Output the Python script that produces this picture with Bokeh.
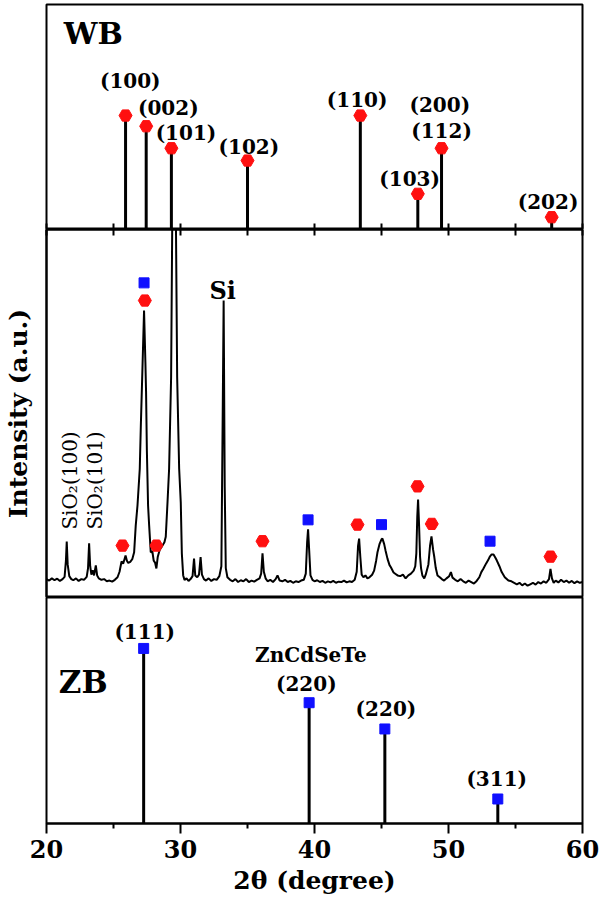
import math
from bokeh.plotting import figure
from bokeh.layouts import column
from bokeh.models import ColumnDataSource, FixedTicker, Range1d, Label
from bokeh.core.properties import value
from bokeh.embed import file_html
from bokeh.resources import INLINE

# ---------------- data ----------------
# Wurtzite (WB) reference lines
wb_pos = [25.9, 27.44, 29.32, 35.0, 43.42, 47.71, 49.48, 57.7]
wb_int = [100, 90.6, 71.3, 60.5, 100, 31.3, 71.3, 10.8]
wb_lbl = ["(100)", "(002)", "(101)", "(102)", "(110)", "(103)", "(200)", "(112)", "(202)"]
wb_lbl_x = [26.25, 29.09, 30.41, 35.1, 43.18, 47.1, 49.35, 49.48, 57.43]
wb_lbl_y = [130.7, 107.0, 85.1, 72.8, 114.0, 44.7, 108.8, 86.0, 23.7]

# Zinc blende (ZB) reference lines
zb_pos = [27.25, 39.6, 45.25, 53.68]
zb_int = [100, 69, 54, 14]
zb_lbl = ["(111)", "ZnCdSeTe", "(220)", "(220)", "(311)"]
zb_lbl_x = [27.33, 39.73, 39.39, 45.33, 53.6]
zb_lbl_y = [109.3, 96.4, 79.8, 65.5, 25.5]

# Measured XRD pattern
xrd_2theta = [
    20.0, 20.2, 20.4, 20.6, 20.8, 21.0, 21.2, 21.35, 21.45, 21.51, 21.58, 21.7, 21.85,
    22.0, 22.2, 22.4, 22.6, 22.8, 23.0, 23.1, 23.18, 23.26, 23.35, 23.45, 23.55, 23.68,
    23.78, 23.9, 24.1, 24.3, 24.5, 24.7, 24.9, 25.1, 25.3, 25.45, 25.6, 25.72, 25.82,
    25.9, 26.0, 26.1, 26.25, 26.4, 26.54, 26.66, 26.79, 26.96, 27.04, 27.16, 27.28,
    27.38, 27.43, 27.49, 27.58, 27.66, 27.78, 27.9, 28.0, 28.1, 28.2, 28.3, 28.45, 28.6,
    28.8, 28.9, 29.03, 29.15, 29.3, 29.42, 29.46, 29.58, 29.62, 29.75, 29.9, 30.02,
    30.1, 30.2, 30.3, 30.45, 30.6, 30.75, 30.9, 31.01, 31.1, 31.25, 31.38, 31.5, 31.6,
    31.75, 31.9, 32.1, 32.3, 32.5, 32.7, 32.9, 33.05, 33.15, 33.22, 33.3, 33.38, 33.5,
    33.7, 33.9, 34.1, 34.3, 34.5, 34.7, 34.9, 35.1, 35.3, 35.5, 35.7, 35.9, 36.02,
    36.12, 36.22, 36.35, 36.5, 36.7, 36.9, 37.1, 37.24, 37.4, 37.6, 37.8, 38.0, 38.2,
    38.4, 38.6, 38.8, 39.0, 39.2, 39.35, 39.45, 39.52, 39.6, 39.7, 39.85, 40.0, 40.2,
    40.4, 40.6, 40.8, 41.0, 41.2, 41.4, 41.6, 41.8, 42.0, 42.2, 42.4, 42.6, 42.8, 43.0,
    43.15, 43.25, 43.33, 43.42, 43.52, 43.65, 43.8, 43.95, 44.1, 44.3, 44.45, 44.6,
    44.7, 44.85, 45.0, 45.07, 45.2, 45.3, 45.45, 45.6, 45.7, 45.9, 46.05, 46.2, 46.4,
    46.6, 46.8, 47.0, 47.2, 47.4, 47.52, 47.6, 47.67, 47.73, 47.8, 47.88, 47.95, 48.05,
    48.19, 48.3, 48.5, 48.62, 48.73, 48.85, 48.94, 49.05, 49.18, 49.35, 49.5, 49.67,
    49.85, 50.05, 50.18, 50.3, 50.5, 50.7, 50.9, 51.1, 51.3, 51.5, 51.7, 51.9, 52.1,
    52.3, 52.45, 52.6, 52.8, 52.95, 53.1, 53.22, 53.36, 53.5, 53.6, 53.8, 53.97, 54.2,
    54.47, 54.7, 54.9, 55.1, 55.3, 55.5, 55.7, 55.9, 56.1, 56.3, 56.5, 56.7, 56.9,
    57.1, 57.3, 57.5, 57.61, 57.72, 57.85, 58.0, 58.2, 58.4, 58.6, 58.8, 59.0, 59.2,
    59.4, 59.6, 59.8, 60.0,
]
xrd_counts = [
    50, 46, 52, 47, 51, 45, 50, 56, 100, 152, 90, 58, 50,
    47, 52, 45, 50, 48, 56, 80, 147, 85, 62, 74, 60, 87,
    60, 52, 48, 50, 44, 46, 43, 48, 55, 70, 98, 92, 104,
    114, 100, 94, 97, 104, 123, 196, 250, 350, 467, 622, 780,
    640, 560, 400, 250, 196, 123, 125, 100, 95, 79, 110, 130, 138,
    150, 165, 258, 350, 600, 1200, 2000, 2000, 1200, 600, 350, 258,
    120, 60, 48, 52, 45, 50, 58, 106, 60, 55, 62, 110, 62,
    50, 46, 52, 45, 50, 48, 58, 85, 500, 807, 300, 80, 55,
    48, 44, 50, 42, 47, 44, 50, 42, 46, 43, 48, 52, 65,
    120, 70, 52, 44, 48, 42, 50, 60, 46, 44, 48, 42, 45,
    40, 44, 42, 46, 48, 65, 150, 185, 130, 60, 48, 44, 47,
    42, 45, 40, 44, 41, 45, 40, 43, 42, 46, 41, 44, 42, 48,
    70, 140, 160, 110, 62, 55, 60, 52, 55, 62, 73, 100,
    123, 145, 158, 160, 145, 128, 105, 88, 82, 68, 64, 60, 58,
    62, 52, 60, 65, 73, 85, 120, 220, 266, 200, 110, 80, 60,
    52, 62, 90, 140, 166, 130, 110, 80, 60, 55, 50, 46,
    52, 58, 69, 54, 48, 44, 50, 44, 40, 46, 42, 38, 45,
    55, 69, 78, 92, 101, 112, 117, 117, 108, 101, 85, 69, 55,
    46, 44, 40, 36, 40, 33, 38, 32, 36, 40, 35, 42, 38,
    44, 40, 50, 78, 52, 40, 46, 41, 48, 42, 46, 40, 45,
    39, 44, 40, 42,
]

# phase markers on the measured pattern
wz_mark_x = [25.67, 27.34, 28.2, 36.12, 43.21, 47.69, 48.75, 57.61]
wz_mark_y = [141, 807, 141, 153, 198, 302, 200, 111]
zb_mark_x = [27.28, 39.52, 45.0, 53.1]
zb_mark_y = [855, 211, 198, 153]

si_lbl = ["Si"]
si_lbl_x = [33.15]
si_lbl_y = [834]
sio2_lbl = ["SiO\u2082(100)", "SiO\u2082(101)"]
sio2_lbl_x = [21.78, 23.65]
sio2_lbl_y = [318, 318]

x_major = [20, 30, 40, 50, 60]
x_minor = [25, 35, 45, 55]
x_all = [20, 25, 30, 35, 40, 45, 50, 55, 60]

# ---------------- style ----------------
FONT = "DejaVu Serif"
RED = "#ff1010"
BLUE = "#1010ff"
FW = 536
xr = Range1d(20, 60)


def make_fig(fh, ymax, xloc, yloc=None, mb_top=0, mb_bottom=0):
    p = figure(frame_width=FW, frame_height=fh, x_range=xr, y_range=Range1d(0, ymax),
               output_backend="svg", toolbar_location=None,
               x_axis_location=xloc, y_axis_location=yloc,
               min_border_left=46, min_border_right=18, min_border_top=mb_top,
               min_border_bottom=mb_bottom)
    p.grid.visible = False
    p.outline_line_color = "black"
    p.outline_line_width = 2
    p.background_fill_color = "white"
    p.border_fill_color = "white"
    ax = p.xaxis[0]
    ax.axis_line_width = 2
    ax.major_tick_line_width = 2
    ax.minor_tick_line_width = 2
    return p


def boundary_ticks(ax):
    # only minor ticks -> tick marks without any tick labels
    ax.ticker = FixedTicker(ticks=[], minor_ticks=x_all)
    ax.major_label_standoff = 0
    ax.major_tick_out = 0
    ax.major_tick_in = 0
    ax.minor_tick_out = 0
    ax.minor_tick_in = 6


# ---- top panel (WB) ----
p1 = make_fig(225, 197.4, "below", mb_top=4)
boundary_ticks(p1.xaxis[0])
src_wb = ColumnDataSource(dict(x=wb_pos, y=wb_int))
p1.segment(x0="x", y0=0, x1="x", y1="y", source=src_wb, line_color="black", line_width=3)
p1.scatter(x="x", y="y", source=src_wb, marker="hex", size=13, fill_color=RED, line_color=RED)
p1.text(x=wb_lbl_x, y=wb_lbl_y, text=wb_lbl, text_align="center", text_baseline="middle",
        text_font=value(FONT), text_font_style="bold", text_font_size="20px", text_color="black")
p1.add_layout(Label(x=21.29, y=171.9, text="WB", text_align="left", text_baseline="middle",
                    text_font=FONT, text_font_style="bold", text_font_size="30px",
                    text_color="black"))

# ---- middle panel (measured) ----
p2 = make_fig(368, 1000, "above", yloc="left")
boundary_ticks(p2.xaxis[0])
yax = p2.yaxis[0]
yax.ticker = FixedTicker(ticks=[], minor_ticks=[])
yax.major_tick_out = 0
yax.major_tick_in = 0
yax.minor_tick_out = 0
yax.minor_tick_in = 0
yax.major_label_standoff = 0
yax.axis_line_width = 2
yax.axis_label = "Intensity (a.u.)"
yax.axis_label_text_font = FONT
yax.axis_label_text_font_style = "bold"
yax.axis_label_text_font_size = "25px"
yax.axis_label_text_color = "black"
yax.axis_label_standoff = 14
p2.line(xrd_2theta, xrd_counts, line_color="black", line_width=2)
p2.scatter(wz_mark_x, wz_mark_y, marker="hex", size=13, fill_color=RED, line_color=RED)
p2.scatter(zb_mark_x, zb_mark_y, marker="square", size=10, fill_color=BLUE, line_color=BLUE)
p2.text(x=si_lbl_x, y=si_lbl_y, text=si_lbl, text_align="center", text_baseline="middle",
        text_font=value(FONT), text_font_style="bold", text_font_size="24px")
p2.text(x=sio2_lbl_x, y=sio2_lbl_y, text=sio2_lbl, text_align="center", text_baseline="middle",
        angle=math.pi / 2, text_font=value(FONT), text_font_size="20px")

# ---- bottom panel (ZB) ----
p3 = make_fig(226, 129.1, "below", mb_bottom=82)
ax = p3.xaxis[0]
ax.ticker = FixedTicker(ticks=x_major, minor_ticks=x_minor)
ax.major_tick_out = 10
ax.major_tick_in = 0
ax.minor_tick_out = 5
ax.minor_tick_in = 0
ax.major_label_standoff = 6
ax.major_label_text_font = FONT
ax.major_label_text_font_style = "bold"
ax.major_label_text_font_size = "24px"
ax.major_label_text_color = "black"
ax.axis_label = "2\u03b8 (degree)"
ax.axis_label_text_font = FONT
ax.axis_label_text_font_style = "bold"
ax.axis_label_text_font_size = "25px"
ax.axis_label_standoff = 5
ax.axis_label_text_color = "black"
src_zb = ColumnDataSource(dict(x=zb_pos, y=zb_int))
p3.segment(x0="x", y0=0, x1="x", y1="y", source=src_zb, line_color="black", line_width=3)
p3.scatter(x="x", y="y", source=src_zb, marker="square", size=10, fill_color=BLUE, line_color=BLUE)
p3.text(x=zb_lbl_x, y=zb_lbl_y, text=zb_lbl, text_align="center", text_baseline="middle",
        text_font=value(FONT), text_font_style="bold", text_font_size="20px")
p3.add_layout(Label(x=20.92, y=80.6, text="ZB", text_align="left", text_baseline="middle",
                    text_font=FONT, text_font_style="bold", text_font_size="31px",
                    text_color="black"))

layout = column(p1, p2, p3, spacing=0)
open("out.html", "w").write(file_html(layout, INLINE))
